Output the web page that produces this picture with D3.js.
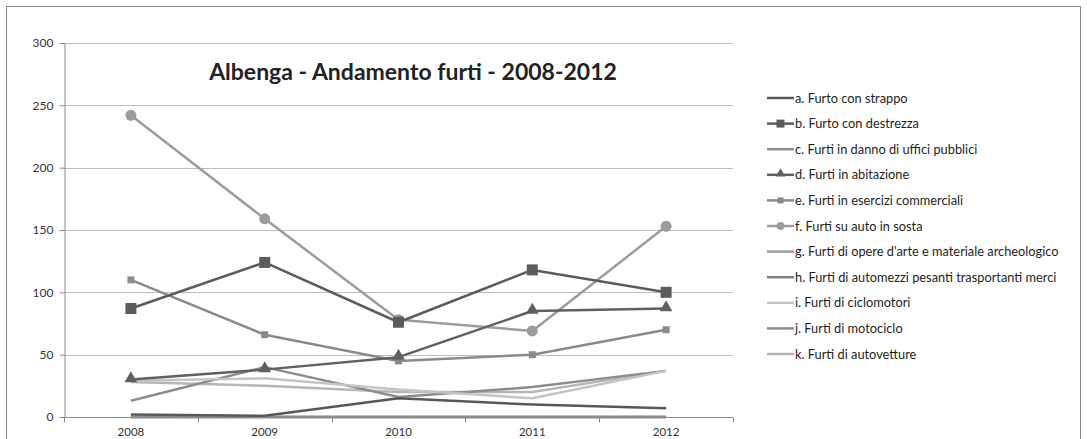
<!DOCTYPE html>
<html>
<head>
<meta charset="utf-8">
<script src="https://cdn.jsdelivr.net/npm/d3@7"></script>
<style>
  body { margin: 0; background: #fff; }
  text { font-family: Lato, "Open Sans", sans-serif; }
</style>
</head>
<body>
<div id="chart"></div>
<script>
// data
const years = ["2008", "2009", "2010", "2011", "2012"];
const yTicks = [0, 50, 100, 150, 200, 250, 300];

const aStrappo    = [2, 1, 15, 10, 7];
const bDestrezza  = [87, 124, 76, 118, 100];
const cUffici     = [0, 0, 0, 0, 0];
const dAbitazione = [30, 38, 48, 85, 87];
const eEsercizi   = [110, 66, 45, 50, 70];
const fAuto       = [242, 159, 78, 69, 153];
const gOpere      = [0, 0, 0, 0, 0];
const hAutomezzi  = [0, 0, 0, 0, 0];
const iCiclomot   = [29, 31, 22, 15, 37];
const jMotociclo  = [13, 40, 16, 24, 37];
const kAutovett   = [28, 25, 20, 20, 37];

const seriesNames = [
  "a. Furto con strappo",
  "b. Furto con destrezza",
  "c. Furti in danno di uffici pubblici",
  "d. Furti in abitazione",
  "e. Furti in esercizi commerciali",
  "f. Furti su auto in sosta",
  "g. Furti di opere d'arte e materiale archeologico",
  "h. Furti di automezzi pesanti trasportanti merci",
  "i. Furti di ciclomotori",
  "j. Furti di motociclo",
  "k. Furti di autovetture"
];
const seriesValues = [aStrappo, bDestrezza, cUffici, dAbitazione, eEsercizi, fAuto,
  gOpere, hAutomezzi, iCiclomot, jMotociclo, kAutovett];
const seriesColors = ["#585858", "#5c5c5c", "#8e8e8e", "#606060", "#8a8a8a", "#9c9c9c",
  "#9e9e9e", "#828282", "#c4c4c4", "#8c8c8c", "#b6b6b6"];
const seriesMarkers = [null, "bigsquare", null, "triangle", "square", "circle",
  null, null, null, null, null];

const W = 1087, H = 439;
const margin = { top: 43, left: 64, right: 354, bottom: 22 };
const width = W - margin.left - margin.right,
      height = H - margin.top - margin.bottom;

const svg = d3.select("#chart").append("svg")
  .attr("width", W).attr("height", H);

// outer chart border
svg.append("rect")
  .attr("x", 6.5).attr("y", 6.5)
  .attr("width", 1074).attr("height", 440)
  .attr("fill", "none").attr("stroke", "#8a8a8a").attr("stroke-width", 1);

const g = svg.append("g")
  .attr("transform", "translate(" + margin.left + "," + margin.top + ")");

const x = d3.scaleBand().domain(years).range([0, width]);
const y = d3.scaleLinear().domain([0, 300]).range([height, 0]);

// gridlines
g.append("g").selectAll("line")
  .data(yTicks.filter(d => d > 0))
  .enter().append("line")
    .attr("x1", 0).attr("x2", width)
    .attr("y1", d => Math.round(y(d)) + 0.5).attr("y2", d => Math.round(y(d)) + 0.5)
    .attr("stroke", "#bdbdbd");

// y axis
const yAxis = g.append("g")
  .attr("transform", "translate(0.5,0)")
  .call(d3.axisLeft(y).tickValues(yTicks).tickSize(5).tickPadding(6));
yAxis.select(".domain").attr("stroke", "#8a8a8a");
yAxis.selectAll(".tick line").attr("stroke", "#8a8a8a");
yAxis.selectAll("text").attr("fill", "#333").style("font-size", "12px");

// x axis, ticks on category boundaries
const xAxisG = g.append("g")
  .attr("transform", "translate(0," + (Math.round(height) + 0.5) + ")");
xAxisG.append("line")
  .attr("x1", 0).attr("x2", width).attr("stroke", "#8a8a8a");
xAxisG.selectAll(".bound")
  .data(d3.range(years.length + 1))
  .enter().append("line")
    .attr("x1", i => Math.round(i * x.bandwidth()) + 0.5)
    .attr("x2", i => Math.round(i * x.bandwidth()) + 0.5)
    .attr("y1", 0).attr("y2", 5)
    .attr("stroke", "#8a8a8a");
xAxisG.selectAll("text")
  .data(years)
  .enter().append("text")
    .attr("x", d => x(d) + x.bandwidth() / 2)
    .attr("y", 18)
    .attr("text-anchor", "middle")
    .attr("fill", "#333")
    .style("font-size", "11.5px")
    .text(d => d);

// lines
const line = d3.line()
  .x((d, i) => x(years[i]) + x.bandwidth() / 2)
  .y(d => y(d));

function drawMarker(sel, type, color, cx, cy) {
  if (type === "bigsquare") {
    sel.append("rect").attr("x", cx - 5.5).attr("y", cy - 5.5)
      .attr("width", 11).attr("height", 11).attr("fill", color);
  } else if (type === "square") {
    sel.append("rect").attr("x", cx - 3.5).attr("y", cy - 3.5)
      .attr("width", 7).attr("height", 7).attr("fill", color);
  } else if (type === "circle") {
    sel.append("circle").attr("cx", cx).attr("cy", cy).attr("r", 5.5).attr("fill", color);
  } else if (type === "triangle") {
    sel.append("path")
      .attr("d", d3.symbol().type(d3.symbolTriangle).size(70)())
      .attr("transform", "translate(" + cx + "," + (cy - 1) + ")")
      .attr("fill", color);
  }
}

// draw in reverse so the first series sit on top
d3.range(seriesValues.length).reverse().forEach(s => {
  g.append("path")
    .datum(seriesValues[s])
    .attr("d", line)
    .attr("fill", "none")
    .attr("stroke", seriesColors[s])
    .attr("stroke-width", 2.5)
    .attr("stroke-linejoin", "round");
  if (seriesMarkers[s]) {
    const mg = g.append("g");
    seriesValues[s].forEach((v, i) => {
      drawMarker(mg, seriesMarkers[s], seriesColors[s],
        x(years[i]) + x.bandwidth() / 2, y(v));
    });
  }
});

// title
svg.append("text")
  .attr("x", 413).attr("y", 80)
  .attr("text-anchor", "middle")
  .attr("fill", "#222")
  .style("font-size", "23px")
  .style("font-weight", "bold")
  .text("Albenga - Andamento furti - 2008-2012");

// legend
const legend = svg.append("g").attr("transform", "translate(767,98)");
const rows = legend.selectAll("g")
  .data(seriesNames)
  .enter().append("g")
    .attr("transform", (d, i) => "translate(0," + (i * 25.6) + ")");
rows.append("line")
  .attr("x1", 0).attr("x2", 27)
  .attr("stroke", (d, i) => seriesColors[i])
  .attr("stroke-width", 2.5);
rows.each(function (d, i) {
  if (seriesMarkers[i]) {
    const sel = d3.select(this);
    const t = seriesMarkers[i];
    if (t === "bigsquare") {
      sel.append("rect").attr("x", 9.5).attr("y", -4).attr("width", 8).attr("height", 8)
        .attr("fill", seriesColors[i]);
    } else if (t === "square") {
      sel.append("rect").attr("x", 10.5).attr("y", -3).attr("width", 6).attr("height", 6)
        .attr("fill", seriesColors[i]);
    } else if (t === "circle") {
      sel.append("circle").attr("cx", 13.5).attr("cy", 0).attr("r", 4)
        .attr("fill", seriesColors[i]);
    } else if (t === "triangle") {
      sel.append("path")
        .attr("d", d3.symbol().type(d3.symbolTriangle).size(40)())
        .attr("transform", "translate(13.5,-1)")
        .attr("fill", seriesColors[i]);
    }
  }
});
rows.append("text")
  .attr("x", 28).attr("y", 4.5)
  .attr("fill", "#1e1e1e")
  .style("font-size", "12.8px")
  .text(d => d);
</script>
</body>
</html>
